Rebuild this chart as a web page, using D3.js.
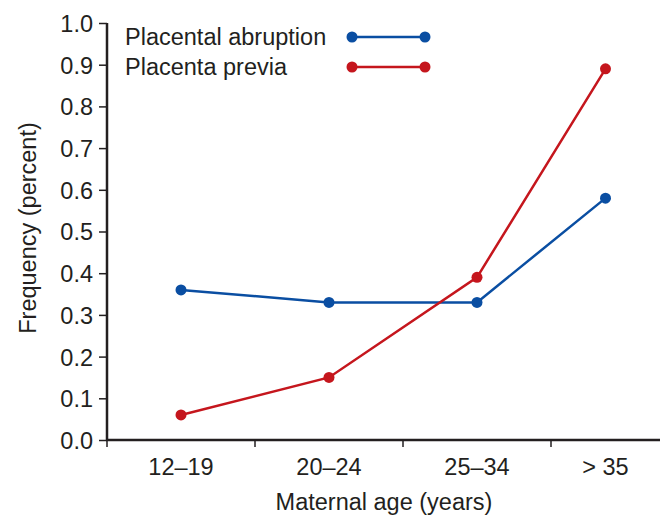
<!DOCTYPE html>
<html><head><meta charset="utf-8">
<script src="https://cdn.jsdelivr.net/npm/d3@7"></script>
<style>body{margin:0;background:#fff}svg{display:block}text{font-family:"Liberation Sans",Arial,sans-serif;fill:#231f20}</style>
</head><body><svg id="c" width="664" height="516"></svg>
<script>
const categories = ["12–19", "20–24", "25–34", "> 35"];
const abruption = [0.36, 0.33, 0.33, 0.58];
const previa = [0.06, 0.15, 0.39, 0.89];
const yTicks = [0, 0.1, 0.2, 0.3, 0.4, 0.5, 0.6, 0.7, 0.8, 0.9, 1.0];
const seriesNames = ["Placental abruption", "Placenta previa"];
const colors = ["#0a4ea2", "#c5161d"];
const FS = 23.5;

const svg = d3.select("#c");
const pLeft = 107, pRight = 660, pTop = 23, pBottom = 440;
const x = d3.scaleBand().domain(categories).range([pLeft, pLeft + 4 * 148]);
const y = d3.scaleLinear().domain([0, 1]).range([pBottom, pTop]);
const cx = c => (x(c) + Math.min(x(c) + x.bandwidth(), pRight)) / 2;

// y axis
const ya = svg.append("g").attr("transform", `translate(${pLeft},0)`)
  .call(d3.axisLeft(y).tickValues(yTicks).tickFormat(d3.format(".1f")).tickSize(8).tickPadding(6));
ya.select(".domain").remove();
ya.selectAll(".tick line").attr("stroke", "#231f20").attr("stroke-width", 1.5);
ya.selectAll(".tick text").attr("font-size", FS).attr("fill", "#231f20").attr("dy", "0.36em")
  .attr("font-family", '"Liberation Sans",Arial,sans-serif');
svg.append("line").attr("x1", pLeft).attr("x2", pLeft).attr("y1", pTop).attr("y2", pBottom + 1)
  .attr("stroke", "#231f20").attr("stroke-width", 2.5);

// x axis
const boundaries = categories.map(c => x(c));
const xa = svg.append("g").attr("transform", `translate(0,${pBottom})`);
xa.selectAll("line.t").data(boundaries).join("line").attr("class", "t")
  .attr("x1", d => d).attr("x2", d => d).attr("y1", 0).attr("y2", 7)
  .attr("stroke", "#231f20").attr("stroke-width", 1.5);
xa.append("line").attr("x1", pLeft - 1).attr("x2", pRight).attr("y1", 0).attr("y2", 0)
  .attr("stroke", "#231f20").attr("stroke-width", 2.5);
xa.selectAll("text.l").data(categories).join("text").attr("class", "l")
  .attr("x", d => cx(d)).attr("y", 35).attr("text-anchor", "middle").attr("font-size", FS).text(d => d);

svg.append("text").attr("x", 384).attr("y", 510).attr("text-anchor", "middle").attr("font-size", FS)
  .text("Maternal age (years)");
svg.append("text").attr("transform", "translate(36,228) rotate(-90)").attr("text-anchor", "middle")
  .attr("font-size", FS).text("Frequency (percent)");

// series
const line = d3.line().x((d, i) => cx(categories[i])).y(d => y(d));
[abruption, previa].forEach((vals, k) => {
  svg.append("path").datum(vals).attr("d", line).attr("fill", "none")
    .attr("stroke", colors[k]).attr("stroke-width", 2.5);
  svg.append("g").selectAll("circle").data(vals).join("circle")
    .attr("cx", (d, i) => cx(categories[i])).attr("cy", d => y(d)).attr("r", 5.5).attr("fill", colors[k]);
});

// legend
const lg = svg.append("g");
seriesNames.forEach((n, k) => {
  const ly = 37 + k * 30;
  lg.append("text").attr("x", 125).attr("y", ly + 8).attr("font-size", FS).text(n);
  lg.append("line").attr("x1", 352).attr("x2", 425).attr("y1", ly).attr("y2", ly)
    .attr("stroke", colors[k]).attr("stroke-width", 2.5);
  [352, 425].forEach(px => lg.append("circle").attr("cx", px).attr("cy", ly).attr("r", 5.5).attr("fill", colors[k]));
});
</script></body></html>
